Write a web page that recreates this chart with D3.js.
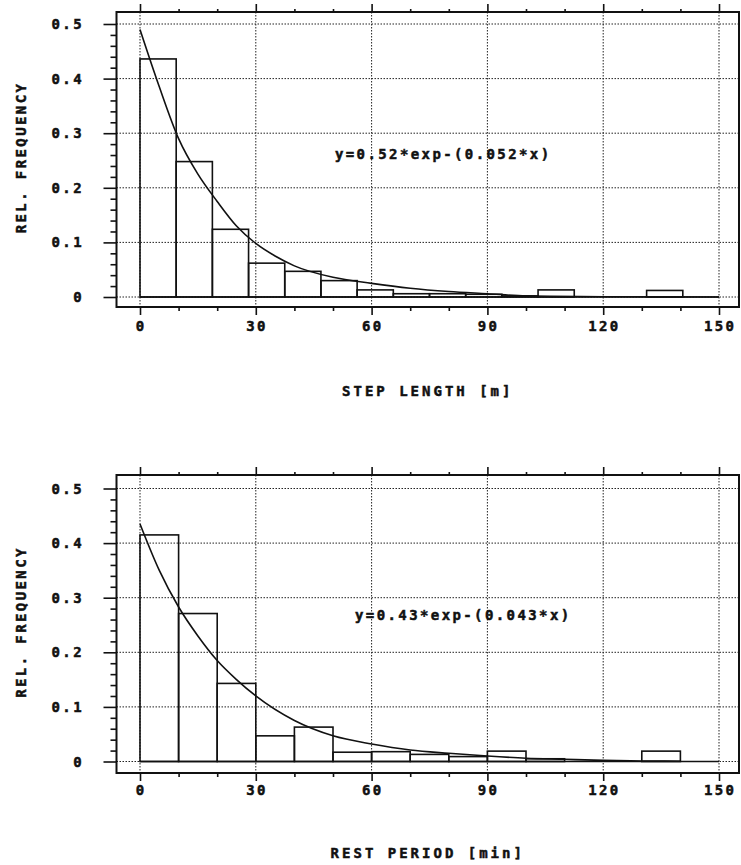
<!DOCTYPE html>
<html>
<head>
<meta charset="utf-8">
<script src="https://cdn.jsdelivr.net/npm/d3@7.9.0/dist/d3.min.js"></script>
<style>
  body { margin: 0; background: #fff; }
  svg { display: block; }
  text { font-family: "DejaVu Sans Mono", "Liberation Mono", monospace; font-weight: bold; font-size: 14px; fill: #111; stroke: #111; stroke-width: 0.5px; letter-spacing: 2.4px; }
</style>
</head>
<body>
<div id="chart"></div>
<script>
// --- data ---
const xTicks = [0, 30, 60, 90, 120, 150];
const xMinorTicks = [10, 20, 40, 50, 70, 80, 100, 110, 130, 140];
const yTicks = [0, 0.1, 0.2, 0.3, 0.4, 0.5];
const yTickLabels = ['0', '0.1', '0.2', '0.3', '0.4', '0.5'];
const yMinorTicks = [0.02, 0.04, 0.06, 0.08, 0.12, 0.14, 0.16, 0.18, 0.22, 0.24, 0.26, 0.28,
  0.32, 0.34, 0.36, 0.38, 0.42, 0.44, 0.46, 0.48];

// step length: 16 classes across 0-150 m
const stepEdges = [0, 9.375, 18.75, 28.125, 37.5, 46.875, 56.25, 65.625, 75,
  84.375, 93.75, 103.125, 112.5, 121.875, 131.25, 140.625, 150];
const stepFreq = [0.436, 0.248, 0.124, 0.062, 0.047, 0.030, 0.013, 0.006,
  0.006, 0.005, 0.002, 0.013, 0, 0, 0.012, 0];
const stepFitX = [0, 5, 10, 15, 20, 25, 30, 35, 40, 50, 60, 70, 80, 90, 100, 120, 150];
const stepFitY = [0.49, 0.385, 0.29, 0.225, 0.175, 0.13, 0.098, 0.075, 0.057, 0.036,
  0.025, 0.016, 0.010, 0.006, 0.002, 0.0005, 0];

// rest period: 10-minute classes
const restEdges = [0, 10, 20, 30, 40, 50, 60, 70, 80, 90, 100, 110, 120, 130, 140, 150];
const restFreq = [0.415, 0.271, 0.143, 0.047, 0.063, 0.017, 0.018, 0.013, 0.009,
  0.019, 0.005, 0, 0, 0.019, 0];
const restFitX = [0, 5, 10, 15, 20, 25, 30, 40, 50, 60, 70, 80, 90, 100, 110, 120, 130, 140];
const restFitY = [0.435, 0.35, 0.283, 0.23, 0.185, 0.15, 0.12, 0.075, 0.047, 0.032,
  0.021, 0.015, 0.010, 0.006, 0.004, 0.002, 0.001, 0.0005];

const panels = [
  {
    edges: stepEdges, freq: stepFreq, fitX: stepFitX, fitY: stepFitY,
    title: 'STEP LENGTH [m]', eq: 'y=0.52*exp-(0.052*x)', eqAt: [50.5, 0.262],
    frameTop: 12, frameBottom: 307, yTop: 24, yBottom: 297,
    tickLabelY: 331, titleY: 396,
  },
  {
    edges: restEdges, freq: restFreq, fitX: restFitX, fitY: restFitY,
    title: 'REST PERIOD [min]', eq: 'y=0.43*exp-(0.043*x)', eqAt: [55.7, 0.268],
    frameTop: 475, frameBottom: 773, yTop: 488.5, yBottom: 761.5,
    tickLabelY: 795, titleY: 858,
  },
];

const width = 741;
const height = 865;
const frameLeft = 116.5;
const frameRight = 739;

const svg = d3.select('#chart')
  .append('svg')
  .attr('width', width)
  .attr('height', height);

function drawPanel(p) {
  const g = svg.append('g');

  const x = d3.scaleLinear().domain([0, 150]).range([140, 719]);
  const y = d3.scaleLinear().domain([0, 0.5]).range([p.yBottom, p.yTop]);

  // dotted grid
  const grid = g.append('g')
    .attr('stroke', '#222')
    .attr('stroke-width', 1)
    .attr('stroke-dasharray', '1.5,1.5');

  grid.selectAll('line.v')
    .data(xTicks)
    .join('line')
    .attr('class', 'v')
    .attr('x1', (d) => x(d)).attr('x2', (d) => x(d))
    .attr('y1', p.frameTop).attr('y2', p.frameBottom);

  grid.selectAll('line.h')
    .data(yTicks)
    .join('line')
    .attr('class', 'h')
    .attr('x1', frameLeft).attr('x2', frameRight)
    .attr('y1', (d) => y(d)).attr('y2', (d) => y(d));

  // histogram bars
  g.append('g')
    .selectAll('rect')
    .data(p.freq.map((f, i) => ({ x0: p.edges[i], x1: p.edges[i + 1], f })).filter((d) => d.f > 0))
    .join('rect')
    .attr('x', (d) => x(d.x0))
    .attr('y', (d) => y(d.f))
    .attr('width', (d) => x(d.x1) - x(d.x0))
    .attr('height', (d) => y(0) - y(d.f))
    .attr('fill', 'none')
    .attr('stroke', '#111')
    .attr('stroke-width', 1.6);

  // solid base line under the bars
  g.append('line')
    .attr('x1', x(0)).attr('x2', x(150))
    .attr('y1', y(0)).attr('y2', y(0))
    .attr('stroke', '#111')
    .attr('stroke-width', 1.6);

  // fitted curve
  const line = d3.line()
    .x((d, i) => x(p.fitX[i]))
    .y((d) => y(d))
    .curve(d3.curveMonotoneX);

  g.append('path')
    .datum(p.fitY)
    .attr('d', line)
    .attr('fill', 'none')
    .attr('stroke', '#111')
    .attr('stroke-width', 1.6);

  // frame
  g.append('rect')
    .attr('x', frameLeft)
    .attr('y', p.frameTop)
    .attr('width', frameRight - frameLeft)
    .attr('height', p.frameBottom - p.frameTop)
    .attr('fill', 'none')
    .attr('stroke', '#111')
    .attr('stroke-width', 2);

  // axes (ticks outside the frame)
  const addAxis = (axis, transform) => {
    const a = g.append('g').attr('transform', transform).call(axis);
    a.select('.domain').remove();
    a.selectAll('line').attr('stroke', '#111').attr('stroke-width', 1.6);
    a.selectAll('text').remove();
  };

  addAxis(d3.axisLeft(y).tickValues(yTicks).tickSize(13), `translate(${frameLeft},0)`);
  addAxis(d3.axisLeft(y).tickValues(yMinorTicks).tickSize(6), `translate(${frameLeft},0)`);
  addAxis(d3.axisBottom(x).tickValues(xTicks).tickSize(8), `translate(0,${p.frameBottom})`);
  addAxis(d3.axisBottom(x).tickValues(xMinorTicks).tickSize(4), `translate(0,${p.frameBottom})`);
  addAxis(d3.axisTop(x).tickValues(xTicks).tickSize(8), `translate(0,${p.frameTop})`);
  addAxis(d3.axisTop(x).tickValues(xMinorTicks).tickSize(3), `translate(0,${p.frameTop})`);

  // tick labels
  g.append('g')
    .selectAll('text')
    .data(yTicks)
    .join('text')
    .attr('x', 84)
    .attr('y', (d) => y(d))
    .attr('dy', '0.36em')
    .attr('text-anchor', 'end')
    .text((d, i) => yTickLabels[i]);

  g.append('g')
    .selectAll('text')
    .data(xTicks)
    .join('text')
    .attr('x', (d) => x(d) + 1.2)
    .attr('y', p.tickLabelY)
    .attr('text-anchor', 'middle')
    .text((d) => d);

  // equation
  g.append('text')
    .attr('x', x(p.eqAt[0]))
    .attr('y', y(p.eqAt[1]))
    .attr('dy', '0.36em')
    .text(p.eq);

  // axis titles
  g.append('text')
    .attr('x', (frameLeft + frameRight) / 2)
    .attr('y', p.titleY)
    .attr('text-anchor', 'middle')
    .style('letter-spacing', '3px')
    .text(p.title);

  g.append('text')
    .attr('transform', `translate(26,${(p.frameTop + p.frameBottom) / 2 - 2}) rotate(-90)`)
    .attr('text-anchor', 'middle')
    .text('REL. FREQUENCY');
}

panels.forEach(drawPanel);
</script>
</body>
</html>
